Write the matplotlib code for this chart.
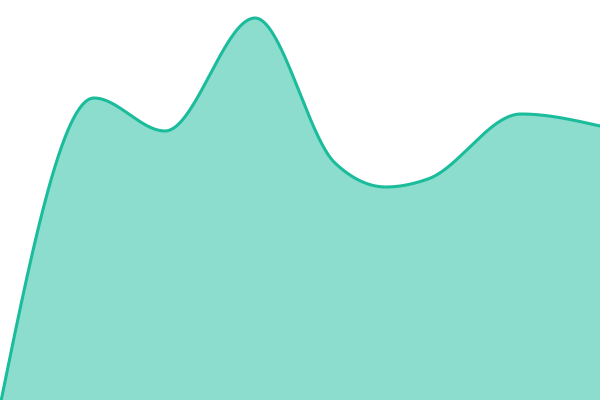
import numpy as np
import matplotlib
matplotlib.use("Agg")
import matplotlib.pyplot as plt

x_vals = [0, 94, 165, 255, 335, 386, 428, 521, 600]
y_vals = [-6, 302, 269, 382, 237, 213, 221, 286, 274]

def monotone_x(xs, ys, n=80):
    xs = np.asarray(xs, float); ys = np.asarray(ys, float)
    m = len(xs)
    h = np.diff(xs); s = np.diff(ys) / h
    t = np.zeros(m)
    for i in range(1, m - 1):
        h0, h1, s0, s1 = h[i-1], h[i], s[i-1], s[i]
        p = (s0 * h1 + s1 * h0) / (h0 + h1)
        t[i] = (np.sign(s0) + np.sign(s1)) * min(abs(s0), abs(s1), 0.5 * abs(p))
    t[0] = (3 * s[0] - t[1]) / 2
    t[-1] = (3 * s[-1] - t[-2]) / 2
    X, Y = [], []
    u = np.linspace(0, 1, n)
    for i in range(m - 1):
        dx = h[i] / 3
        y0, y1 = ys[i], ys[i] + dx * t[i]
        y2, y3 = ys[i+1] - dx * t[i+1], ys[i+1]
        X.extend(xs[i] + u * h[i])
        Y.extend((1-u)**3*y0 + 3*(1-u)**2*u*y1 + 3*(1-u)*u**2*y2 + u**3*y3)
    return np.array(X), np.array(Y)

cx, cy = monotone_x(x_vals, y_vals)

fig = plt.figure(figsize=(6, 4), dpi=100)
ax = fig.add_axes([0, 0, 1, 1])
ax.fill_between(cx, -20, cy, color="#1ABC9C", alpha=0.5, linewidth=0)
ax.plot(cx, cy, color="#1ABC9C", linewidth=2.2, solid_capstyle="round")
ax.set_xlim(0, 600)
ax.set_ylim(0, 400)
ax.axis("off")
fig.savefig("out.png", dpi=100)
